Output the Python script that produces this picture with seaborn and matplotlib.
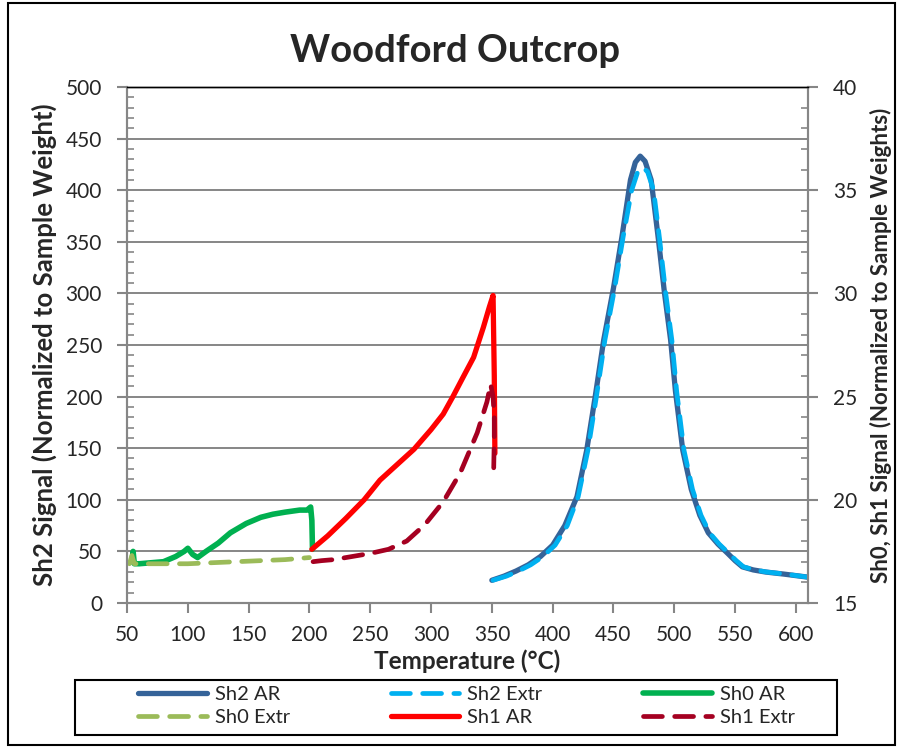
import numpy as np
import pandas as pd
import matplotlib
matplotlib.use("Agg")
import matplotlib.pyplot as plt
import seaborn as sns
from matplotlib.ticker import MultipleLocator
from matplotlib.patches import Rectangle

# ---- data ----
sh2_ar_temp = [350, 360, 370, 380, 390, 400, 410, 420, 428, 435, 442, 450, 457, 464, 468, 472,
               476, 481, 487, 492, 497, 501, 507, 514, 521, 528, 536, 544, 550, 556, 565, 575, 590, 610]
sh2_ar_val = [22, 26, 31, 37, 45, 56, 75, 103, 148, 200, 255, 305, 355, 410, 427, 433,
              428, 410, 352, 300, 255, 205, 148, 110, 85, 68, 57, 48, 41, 35, 32, 30, 28, 25]

sh2_ex_temp = [351, 362, 372, 382, 392, 402, 412, 421, 429, 436, 443, 451, 458, 465, 470, 474,
               478, 483, 488, 493, 498, 502, 508, 515, 522, 529, 537, 545, 551, 557, 566, 576, 591, 610]
sh2_ex_val = [22, 26, 31, 37, 45, 56, 75, 103, 148, 200, 255, 305, 355, 400, 418, 422,
              418, 400, 352, 300, 255, 205, 148, 110, 85, 68, 57, 48, 41, 35, 32, 30, 28, 25]

# Sh0 / Sh1 on the right axis
sh0_ar_temp = [54, 55, 56, 57, 60, 70, 80, 90, 97, 100, 104, 108, 115, 125, 135, 148, 160, 170,
               180, 192, 198, 201, 202, 202.5]
sh0_ar_val = [17.0, 17.5, 16.9, 16.9, 16.9, 16.95, 17.0, 17.25, 17.5, 17.65, 17.35, 17.2, 17.5,
              17.9, 18.4, 18.85, 19.15, 19.3, 19.4, 19.5, 19.5, 19.65, 19.0, 17.6]

sh0_ex_temp = [52, 54, 56, 60, 80, 100, 120, 140, 160, 180, 200]
sh0_ex_val = [16.9, 17.3, 16.9, 16.9, 16.9, 16.9, 16.95, 17.0, 17.05, 17.1, 17.2]

sh1_ar_temp = [202, 205, 215, 230, 245, 258, 272, 286, 300, 310, 318, 326, 335, 343, 348, 351, 352, 352.5]
sh1_ar_val = [17.6, 17.75, 18.25, 19.1, 20.0, 20.95, 21.7, 22.45, 23.4, 24.15, 25.0, 25.9,
              26.9, 28.35, 29.35, 29.9, 26.0, 22.25]

sh1_ex_temp = [203, 210, 220, 235, 250, 265, 280, 295, 310, 324, 338, 346, 349, 351, 352, 352, 351.5]
sh1_ex_val = [17.0, 17.05, 17.1, 17.25, 17.4, 17.6, 18.0, 18.8, 19.9, 21.3, 23.25, 24.75,
              25.6, 25.0, 24.0, 23.0, 21.4]

x_ticks = list(range(50, 601, 50))
left_ticks = list(range(0, 501, 50))
right_ticks = list(range(15, 41, 5))

title = "Woodford Outcrop"
xlabel = "Temperature (°C)"
ylabel_left = "Sh2 Signal (Normalized to Sample Weight)"
ylabel_right = "Sh0, Sh1 Signal (Normalized to Sample Weights)"

# ---- style ----
sns.set_style("white")
plt.rcParams['font.family'] = ['Lato', 'DejaVu Sans']

GRAY = "#868686"
fig = plt.figure(figsize=(8.99, 7.48), dpi=100)
ax = fig.add_axes([0.1413, 0.1939, 0.7575, 0.6898])
ax2 = ax.twinx()


def draw(axis, xs, ys, color, lw, dashed, label):
    df = pd.DataFrame({"T": xs, "v": ys})
    sns.lineplot(data=df, x="T", y="v", ax=axis, sort=False, estimator=None,
                 color=color, lw=lw, label=label, legend=False)
    ln = axis.lines[-1]
    if dashed:
        ln.set_dashes((4, 2.6))
        ln.set_dash_capstyle("round")
    else:
        ln.set_solid_capstyle("round")
    ln.set_solid_joinstyle("round")
    return ln


h_sh2_ar = draw(ax, sh2_ar_temp, sh2_ar_val, "#356399", 3.8, False, "Sh2 AR")
h_sh2_ex = draw(ax, sh2_ex_temp, sh2_ex_val, "#00B0F0", 3.4, True, "Sh2 Extr")
h_sh0_ar = draw(ax2, sh0_ar_temp, sh0_ar_val, "#00B050", 4.0, False, "Sh0 AR")
h_sh0_ex = draw(ax2, sh0_ex_temp, sh0_ex_val, "#9BBB59", 3.4, True, "Sh0 Extr")
h_sh1_ar = draw(ax2, sh1_ar_temp, sh1_ar_val, "#FF0000", 3.8, False, "Sh1 AR")
h_sh1_ex = draw(ax2, sh1_ex_temp, sh1_ex_val, "#A50021", 3.4, True, "Sh1 Extr")

# axes limits and ticks
ax.set_xlim(50, 610)
ax.set_ylim(0, 500)
ax2.set_ylim(15, 40)
ax.set_xticks(x_ticks)
ax.set_yticks(left_ticks)
ax2.set_yticks(right_ticks)
ax.yaxis.set_minor_locator(MultipleLocator(10))
ax2.yaxis.set_minor_locator(MultipleLocator(1))

ax.grid(axis="y", which="major", color=GRAY, lw=1.4)
ax.grid(axis="x", visible=False)
ax2.grid(False)
ax.set_axisbelow(True)

for a in (ax, ax2):
    for s in ("left", "bottom", "right"):
        a.spines[s].set_color(GRAY)
        a.spines[s].set_linewidth(1.5)
    a.spines["top"].set_color("black")
    a.spines["top"].set_linewidth(1.0)

ax.tick_params(axis="x", which="major", bottom=True, direction="out", length=7,
               width=1.5, color=GRAY, labelsize=15, pad=9)
ax.tick_params(axis="y", which="major", left=True, right=False, direction="out", length=7,
               width=1.5, color=GRAY, labelsize=15, pad=11)
ax.tick_params(axis="y", which="minor", left=True, right=False, direction="in", length=5,
               width=1.2, color=GRAY)
ax2.tick_params(axis="y", which="major", right=True, left=False, direction="out", length=7,
                width=1.5, color=GRAY, labelsize=15, pad=11)
ax2.tick_params(axis="y", which="minor", right=True, left=False, direction="in", length=5,
                width=1.2, color=GRAY)

ax.set_xlabel(xlabel, fontsize=17.5, fontweight="bold", labelpad=3)
ax.set_ylabel(ylabel_left, fontsize=18.5, fontweight="bold", labelpad=6)
ax2.set_ylabel(ylabel_right, fontsize=16, fontweight="bold", labelpad=9)

fig.text(0.506, 0.932, title, ha="center", va="center", fontsize=27.5, fontweight="bold")

# legend (row order like the reference)
handles = [h_sh2_ar, h_sh0_ex, h_sh2_ex, h_sh1_ar, h_sh0_ar, h_sh1_ex]
labels = [h.get_label() for h in handles]
leg = fig.legend(handles, labels, ncol=3, loc="center",
                 bbox_to_anchor=(0.5190, 0.0561),
                 frameon=False, fontsize=14.5, handlelength=3.4,
                 handletextpad=0.4, columnspacing=5.0, labelspacing=0.3,
                 borderpad=0.0)
fig.patches.append(Rectangle((0.0834, 0.0174), 0.8476, 0.0735, transform=fig.transFigure,
                             fill=False, edgecolor="black", lw=1.5))

fig.patches.append(Rectangle((0.009, 0.004), 0.987, 0.992, transform=fig.transFigure,
                             fill=False, edgecolor="black", lw=1.5))

fig.savefig("out.png", dpi=100)
